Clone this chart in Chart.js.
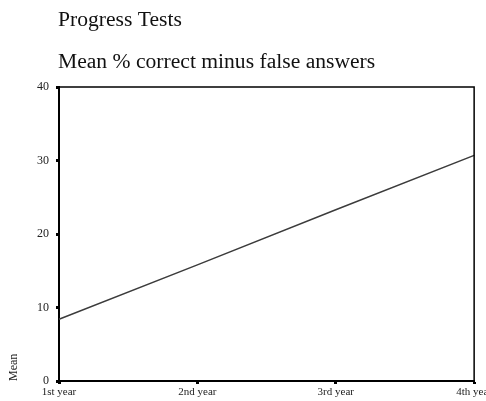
<!DOCTYPE html>
<html>
<head>
<meta charset="utf-8">
<script src="https://cdn.jsdelivr.net/npm/chart.js@4/dist/chart.umd.min.js"></script>
<style>
  html, body { margin: 0; padding: 0; background: #fff; }
  #wrap { width: 486px; height: 401px; overflow: hidden; }
</style>
</head>
<body>
<div id="wrap"><canvas id="c" width="494" height="401"></canvas></div>
<script>
// chart data
const years = ['1st year', '2nd year', '3rd year', '4th year'];
const meanScore = [8.4, 15.8, 23.3, 30.7];
const yTicks = [0, 10, 20, 30, 40];
const titleText = 'Progress Tests';
const subtitleText = 'Mean % correct minus false answers';
const yAxisTitle = 'Mean';

const serif = '"Liberation Serif", "Times New Roman", serif';

// titles sit at the left edge of the plot, and the plot gets a thin top/right frame
const frameAndTitles = {
    id: 'frameAndTitles',
    afterDraw(chart) {
        const { ctx, chartArea: a } = chart;
        ctx.save();
        ctx.fillStyle = '#111';
        ctx.font = '21.6px ' + serif;
        ctx.textBaseline = 'alphabetic';
        ctx.fillText(titleText, a.left - 1, 26);
        ctx.fillText(subtitleText, a.left - 1, 68);

        ctx.strokeStyle = '#000';
        ctx.lineWidth = 1.5;
        ctx.beginPath();
        ctx.moveTo(a.left, a.top);
        ctx.lineTo(a.right, a.top);
        ctx.lineTo(a.right, a.bottom);
        ctx.stroke();
        ctx.restore();
    }
};

new Chart(document.getElementById('c'), {
    type: 'line',
    data: {
        labels: years,
        datasets: [{
            data: meanScore,
            borderColor: '#3c3c3c',
            borderWidth: 1.5,
            pointRadius: 0,
            tension: 0,
            fill: false
        }]
    },
    options: {
        responsive: false,
        animation: false,
        layout: { padding: { top: 87, left: 2, right: 0, bottom: 0 } },
        plugins: { legend: { display: false }, tooltip: { enabled: false } },
        scales: {
            x: {
                offset: false,
                grid: { drawOnChartArea: false, drawTicks: true, tickLength: 3, tickWidth: 3, tickColor: '#000' },
                border: { display: true, color: '#000', width: 2 },
                ticks: { autoSkip: false, maxRotation: 0, padding: 2, color: '#222', font: { family: serif, size: 11 } },
                afterFit(scale) { scale.height = 20; }
            },
            y: {
                min: 0,
                max: 40,
                afterBuildTicks(scale) { scale.ticks = yTicks.map(v => ({ value: v })); },
                grid: { drawOnChartArea: false, drawTicks: true, tickLength: 3, tickWidth: 3, tickColor: '#000' },
                border: { display: true, color: '#000', width: 2 },
                ticks: { padding: 7, color: '#222', font: { family: serif, size: 12 } },
                title: { display: true, text: yAxisTitle, align: 'start', color: '#222', padding: { top: 5, bottom: 0 }, font: { family: serif, size: 12 } },
                afterFit(scale) { scale.width = 57; }
            }
        }
    },
    plugins: [frameAndTitles]
});
</script>
</body>
</html>
